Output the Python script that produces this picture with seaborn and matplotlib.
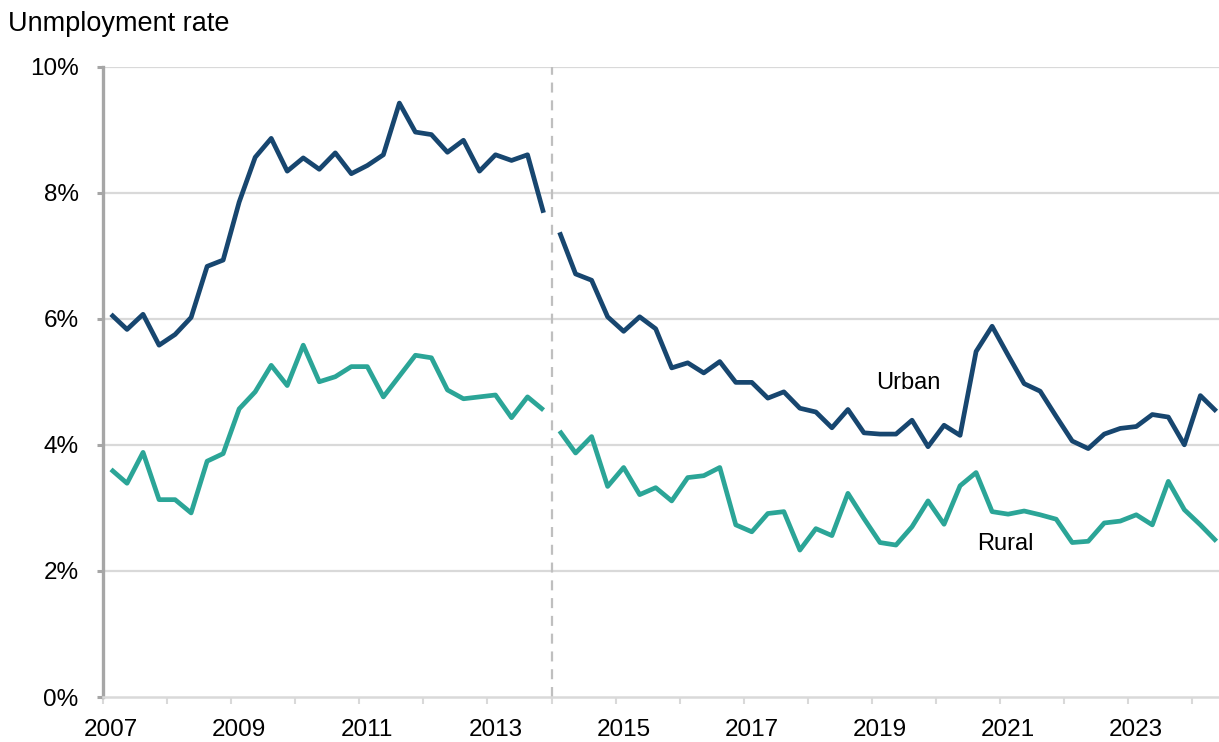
import numpy as np
import pandas as pd
import matplotlib
matplotlib.use("Agg")
import matplotlib.pyplot as plt
import seaborn as sns

# Quarterly data, 2007 Q1 .. 2024 Q2 (series break between 2013 Q4 and 2014 Q1)
years = list(range(2007, 2025))
quarters = [f"{y} Q{q}" for y in years for q in range(1, 5)][:70]
break_after = "2013 Q4"

urban = [6.07, 5.83, 6.07, 5.58, 5.75, 6.02, 6.83, 6.93,
         7.85, 8.56, 8.86, 8.34, 8.55, 8.37, 8.63, 8.30,
         8.43, 8.60, 9.42, 8.96, 8.92, 8.64, 8.83, 8.34,
         8.60, 8.51, 8.60, 7.68,
         7.37, 6.71, 6.61, 6.03, 5.80, 6.03, 5.84, 5.22,
         5.30, 5.14, 5.32, 4.99, 4.99, 4.74, 4.84, 4.58,
         4.52, 4.27, 4.56, 4.19, 4.17, 4.17, 4.39, 3.97,
         4.31, 4.15, 5.48, 5.88, 5.42, 4.97, 4.85, 4.45,
         4.06, 3.94, 4.17, 4.26, 4.29, 4.48, 4.44, 4.00,
         4.78, 4.53]

rural = [3.61, 3.39, 3.88, 3.13, 3.13, 2.92, 3.74, 3.86,
         4.57, 4.84, 5.26, 4.94, 5.58, 5.00, 5.08, 5.24,
         5.24, 4.76, 5.09, 5.42, 5.38, 4.87, 4.73, 4.76,
         4.79, 4.43, 4.76, 4.55,
         4.22, 3.87, 4.13, 3.34, 3.64, 3.21, 3.32, 3.11,
         3.48, 3.51, 3.64, 2.73, 2.62, 2.91, 2.94, 2.33,
         2.67, 2.56, 3.23, 2.83, 2.45, 2.41, 2.70, 3.11,
         2.74, 3.35, 3.56, 2.94, 2.90, 2.95, 2.89, 2.82,
         2.45, 2.47, 2.76, 2.79, 2.89, 2.73, 3.42, 2.97,
         2.73, 2.47]

label_years = [2007, 2009, 2011, 2013, 2015, 2017, 2019, 2021, 2023]
y_ticks = [0, 2, 4, 6, 8, 10]

series_colors = {"Urban": "#17466f", "Rural": "#2ba597"}

n = len(quarters)
brk = quarters.index(break_after) + 1
rows = []
for i, q in enumerate(quarters):
    period = "pre" if i < brk else "post"
    rows.append({"idx": i, "quarter": q, "series": "Urban", "value": urban[i], "seg": period})
    rows.append({"idx": i, "quarter": q, "series": "Rural", "value": rural[i], "seg": period})
df = pd.DataFrame(rows)

sns.set_theme(style="white")
plt.rcParams["font.family"] = ["Liberation Sans", "DejaVu Sans"]

W, H = 1219, 742
fig = plt.figure(figsize=(W / 100, H / 100), dpi=100)
left_px, right_px, top_px, bot_px = 103, 1219, 66.5, 697
ax = fig.add_axes([left_px / W, 1 - bot_px / H, (right_px - left_px) / W, (bot_px - top_px) / H])

grid_c = "#d9d9d9"
for yv in y_ticks[1:]:
    ax.axhline(yv, color=grid_c, lw=1.6, zorder=0)

# series break marker
ax.axvline(brk - 0.5, color="#bfbfbf", lw=1.6, ls=(0, (4.5, 3.5)), zorder=1)

for name in ["Rural", "Urban"]:
    for seg in ["pre", "post"]:
        d = df[(df.series == name) & (df.seg == seg)]
        sns.lineplot(data=d, x="idx", y="value", ax=ax, color=series_colors[name],
                     lw=3.4, solid_joinstyle="round", solid_capstyle="butt",
                     legend=False, zorder=3)

ax.set_xlim(-0.5, -0.5 + (right_px - left_px) / 16.02)
ax.set_ylim(0, 10)

# y axis
ax.set_yticks(y_ticks)
ax.set_yticklabels([f"{v}%" for v in y_ticks])
ax.tick_params(axis="y", which="major", direction="out", length=4.5, width=2.2,
               color="#a6a6a6", pad=13, labelsize=17.5, labelcolor="black", left=True)

# x axis: labels at Q1 of odd years, ticks at year boundaries
label_pos = [quarters.index(f"{y} Q1") for y in label_years]
ax.set_xticks(label_pos)
ax.set_xticklabels([str(y) for y in label_years])
ax.set_xticks([quarters.index(f"{y} Q1") - 0.5 for y in years if f"{y} Q1" in quarters], minor=True)
ax.tick_params(axis="x", which="major", length=0, pad=16, labelsize=17.5, labelcolor="black")
ax.tick_params(axis="x", which="minor", direction="out", length=5, width=1.5,
               color=grid_c, bottom=True)

for s in ["top", "right"]:
    ax.spines[s].set_visible(False)
ax.spines["left"].set_color("#a6a6a6")
ax.spines["left"].set_linewidth(2.4)
ax.spines["bottom"].set_color(grid_c)
ax.spines["bottom"].set_linewidth(1.8)
ax.set_xlabel("")
ax.set_ylabel("")

ax.text(49.75, 4.98, "Urban", fontsize=17, ha="center", va="center", color="black")
ax.text(55.8, 2.42, "Rural", fontsize=17, ha="center", va="center", color="black")

fig.text(8 / W, 1 - 31 / H, "Unmployment rate", fontsize=19.5, ha="left", va="baseline", color="black")

fig.savefig("out.png", dpi=100)
